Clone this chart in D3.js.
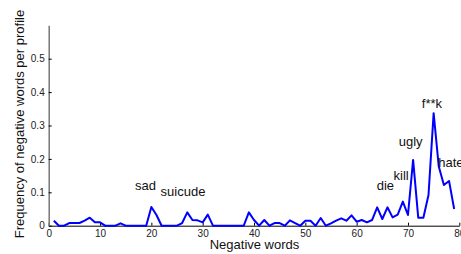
<!DOCTYPE html>
<html lang="en">
<head>
	<meta charset="UTF-8"/>
	<title>Negative words frequency</title>
	<script src="https://d3js.org/d3.v7.min.js"></script>
	<style>
		body { margin: 0; background: #fff; }
		svg text { font-family: "Liberation Sans", Arial, sans-serif; fill: #111; }
	</style>
</head>
<body>
<script>
	//Chart size and the plot area
	var w = 461;
	var h = 254;
	var padLeft = 48.7, padRight = 459.3, padTop = 25.3, padBottom = 225.7;

	//Frequency of each negative word (word index 1..79)
	var freq = [
		0.015, 0, 0, 0.008, 0.008, 0.008, 0.015, 0.024, 0.01, 0.01,
		0, 0, 0, 0.007, 0, 0, 0, 0, 0, 0.056,
		0.032, 0, 0, 0, 0, 0.008, 0.04, 0.017, 0.016, 0.01,
		0.033, 0, 0, 0, 0, 0, 0, 0, 0.04, 0.017,
		0, 0.017, 0, 0.008, 0.008, 0, 0.016, 0.008, 0, 0.015,
		0.015, 0, 0.023, 0, 0.007, 0.015, 0.022, 0.015, 0.031, 0.012,
		0.017, 0.01, 0.017, 0.055, 0.02, 0.055, 0.025, 0.033, 0.072, 0.032,
		0.197, 0.024, 0.024, 0.092, 0.337, 0.177, 0.122, 0.134, 0.05
	];

	//Word labels: text, x and y in data units (start / baseline)
	var labelText = ["sad", "suicude", "die", "kill", "ugly", "f**k", "hate"];
	var labelX    = [16.8, 21.8, 63.9, 67.2, 68.2, 72.7, 75.9];
	var labelY    = [0.108, 0.089, 0.107, 0.137, 0.24, 0.3515, 0.177];

	var xTicks = [0, 10, 20, 30, 40, 50, 60, 70, 80];
	var yTicks = [0, 0.1, 0.2, 0.3, 0.4, 0.5];

	var xScale = d3.scaleLinear().domain([0, 80]).range([padLeft, padRight]);
	var yScale = d3.scaleLinear().domain([0, 0.6]).range([padBottom, padTop]);

	var svg = d3.select("body")
				.append("svg")
				.attr("width", w)
				.attr("height", h);

	//Axes, ticks pointing inward like MATLAB
	var xAxis = d3.axisBottom(xScale)
					.tickValues(xTicks)
					.tickSizeInner(-3)
					.tickSizeOuter(0)
					.tickPadding(6)
					.tickFormat(d3.format("d"));

	var yAxis = d3.axisLeft(yScale)
					.tickValues(yTicks)
					.tickSizeInner(-3)
					.tickSizeOuter(0)
					.tickPadding(4)
					.tickFormat(function(d) { return d === 0 ? "0" : d3.format(".1f")(d); });

	var gx = svg.append("g")
		.attr("transform", "translate(0," + padBottom + ")")
		.call(xAxis);
	gx.selectAll("text").attr("font-size", 10).attr("dy", "0.55em");
	gx.select(".domain").attr("stroke", "#000");

	var gy = svg.append("g")
		.attr("transform", "translate(" + padLeft + ",0)")
		.call(yAxis);
	gy.selectAll("text").attr("font-size", 10);
	gy.select(".domain").attr("stroke", "#777").attr("stroke-width", 1.5);

	svg.selectAll(".tick line").attr("stroke", "#000");
	svg.selectAll(".tick text").style("fill", "#222");

	//The frequency line
	var line = d3.line()
		.x(function(d, i) { return xScale(i + 1); })
		.y(function(d) { return yScale(d); });

	svg.append("path")
		.datum(freq)
		.attr("d", line)
		.attr("fill", "none")
		.attr("stroke", "#0000ff")
		.attr("stroke-width", 2)
		.attr("stroke-linejoin", "round");

	//Word labels
	svg.selectAll("text.word")
		.data(labelText)
		.enter()
		.append("text")
		.attr("class", "word")
		.attr("x", function(d, i) { return xScale(labelX[i]); })
		.attr("y", function(d, i) { return yScale(labelY[i]); })
		.attr("font-size", 13)
		.text(function(d) { return d; });

	//Axis titles
	svg.append("text")
		.attr("text-anchor", "middle")
		.attr("x", (padLeft + padRight) / 2 + 0.5)
		.attr("y", 249)
		.attr("font-size", 13)
		.text("Negative words");

	svg.append("text")
		.attr("text-anchor", "middle")
		.attr("transform", "translate(24," + 124 + ") rotate(-90)")
		.attr("font-size", 13)
		.text("Frequency of negative words per profile");
</script>
</body>
</html>
